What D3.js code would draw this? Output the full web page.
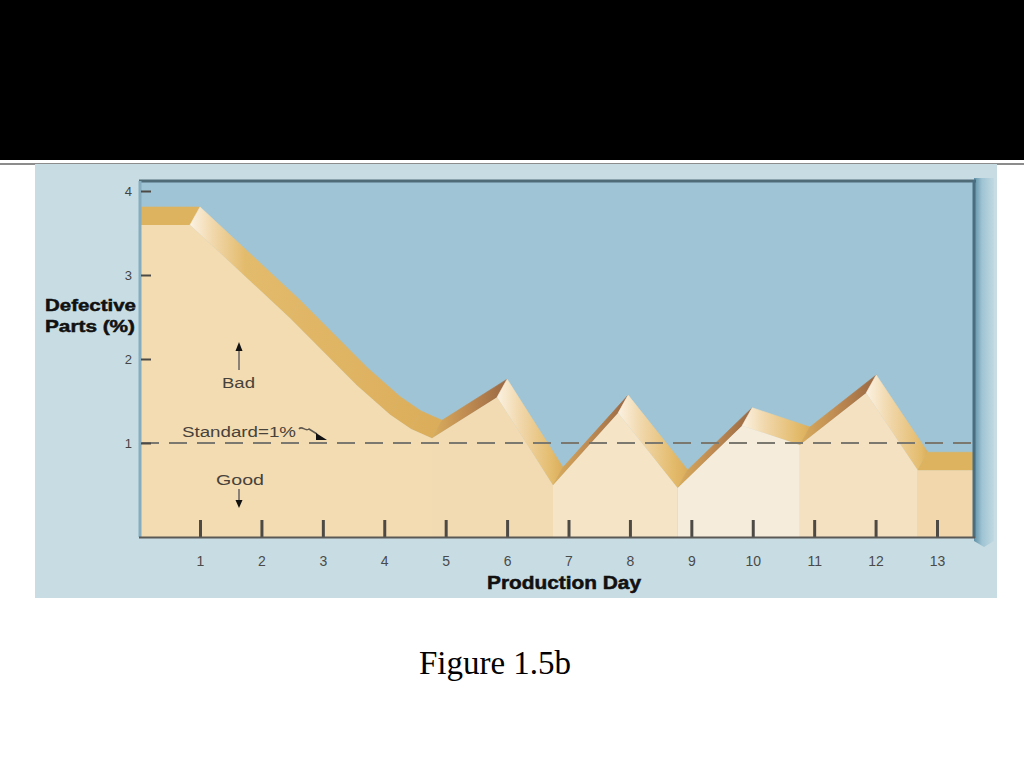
<!DOCTYPE html>
<html><head><meta charset="utf-8">
<script src="https://cdn.jsdelivr.net/npm/d3@7"></script>
<style>body{margin:0;background:#fff;} svg{display:block}</style>
</head><body>
<svg id="c" width="1024" height="768"></svg>
<script>
// ---------------- data ----------------
const dayTicks = [1,2,3,4,5,6,7,8,9,10,11,12,13];
const yTicks = [1,2,3,4];
const ridgeDays   = [0, 1.00, 2.63, 3.72, 4.26, 4.60, 4.94, 6.00, 6.91, 7.97, 8.94, 9.99, 10.93, 12.01, 12.85, 13.90];
const ridgeValues = [3.81, 3.81, 2.70, 1.90, 1.55, 1.38, 1.27, 1.76, 0.71, 1.57, 0.68, 1.42, 1.19, 1.81, 0.89, 0.89];
const standardValue = 1;
const faceBreakDays = [4.94, 6.91, 8.94, 10.93, 12.85];
const yTitle = ["Defective", "Parts (%)"];
const xTitle = "Production Day";
const badLabel = "Bad", goodLabel = "Good", standardLabel = "Standard=1%";
const caption = "Figure 1.5b";

// ---------------- styles ----------------
const faceColors = ["#f3dcb1", "#f2dbb2", "#f5e4c6", "#f6ecdc", "#f4e1c2", "#f1d7ab"];
const depth = {dx: 10, dy: 18};
const plot = {l: 141, r: 974, t: 181, b: 537};

const svg = d3.select("#c");
const defs = svg.append("defs");
const x = d3.scaleLinear().domain([0, 13]).range([138.6, 937]);
const y = d3.scaleLinear().domain([0, 4]).range([527, 191]);

// slide
svg.append("rect").attr("width",1024).attr("height",768).attr("fill","#fff");
svg.append("rect").attr("width",1024).attr("height",160).attr("fill","#000");
svg.append("rect").attr("y",163).attr("width",1024).attr("height",2).attr("fill","#8c8c8c");
// picture background
svg.append("rect").attr("x",35).attr("y",164).attr("width",962).attr("height",434).attr("fill","#c8dde3");

// right bevel
const bev = defs.append("linearGradient").attr("id","bev").attr("x1",0).attr("x2",1).attr("y1",0).attr("y2",0);
bev.append("stop").attr("offset",0).attr("stop-color","#5f91a7");
bev.append("stop").attr("offset",0.4).attr("stop-color","#9fc4d3");
bev.append("stop").attr("offset",1).attr("stop-color","#c0d9e2");
svg.append("path").attr("d",`M${plot.r},${plot.t-3} L${plot.r+20},${plot.t-3} L${plot.r+20},${plot.b+4} L${plot.r+10},${plot.b+10} L${plot.r},${plot.b+4} Z`).attr("fill","url(#bev)");

// plot background
svg.append("rect").attr("x",plot.l).attr("y",plot.t).attr("width",plot.r-plot.l).attr("height",plot.b-plot.t).attr("fill","#9ec4d6");

defs.append("clipPath").attr("id","pc").append("rect")
  .attr("x",plot.l).attr("y",plot.t).attr("width",plot.r-plot.l-1).attr("height",plot.b-plot.t);
const g = svg.append("g").attr("clip-path","url(#pc)");

// ridge geometry
const back = ridgeDays.map((d,i)=>[x(d), y(ridgeValues[i])]);
const front = back.map(([px,py])=>[px-depth.dx, py+depth.dy]);

// group segments into runs
const segs = [];
for (let i=0;i<back.length-1;i++){
  const dv = ridgeValues[i+1]-ridgeValues[i];
  segs.push({i, type: Math.abs(dv)<0.03 ? "flat" : (dv<0 ? "down" : "up")});
}
const runs = [];
segs.forEach(s=>{
  const last = runs[runs.length-1];
  if (last && last.type===s.type) last.segs.push(s.i); else runs.push({type:s.type, segs:[s.i]});
});
runs.forEach((r,k)=>{
  const i0 = r.segs[0], i1 = r.segs[r.segs.length-1]+1;
  const xa = front[i0][0], xb = back[i1][0];
  const len = Math.max(1, xb-xa);
  const gr = defs.append("linearGradient").attr("id","run"+k).attr("gradientUnits","userSpaceOnUse")
    .attr("x1",xa).attr("x2",xb).attr("y1",0).attr("y2",0);
  let stops;
  if (r.type==="flat") stops = [[0,"#ddb35f"],[1,"#ddb35f"]];
  else if (r.type==="up") stops = [[0,"#d9ad5c"],[0.45,"#c08c52"],[1,"#9a6843"]];
  else stops = [[0,"#fbf2e2"],[Math.min(0.9,22/len),"#f1d8ad"],[Math.min(0.95,55/len),"#e3bb6c"],[1,"#dbad5a"]];
  stops.forEach(([o,c])=>gr.append("stop").attr("offset",o).attr("stop-color",c));
  r.segs.forEach(i=>{
    g.append("path")
      .attr("d", d3.line()([front[i], front[i+1], back[i+1], back[i]]) + "Z")
      .attr("fill", `url(#run${k})`).attr("stroke", `url(#run${k})`).attr("stroke-width",0.6);
  });
});

// front faces
const area = d3.area().x(p=>p[0]).y0(plot.b).y1(p=>p[1]);
const bounds = [plot.l-20, ...faceBreakDays.map(d=>x(d)-depth.dx), plot.r+20];
faceColors.forEach((c,k)=>{
  const id = "fc"+k;
  defs.append("clipPath").attr("id",id).append("rect")
    .attr("x",bounds[k]).attr("y",0).attr("width",bounds[k+1]-bounds[k]).attr("height",768);
  g.append("path").attr("d", area(front)).attr("fill", c).attr("clip-path",`url(#${id})`);
});

// standard line
svg.append("line").attr("x1",plot.l).attr("x2",plot.r-2).attr("y1",y(standardValue)).attr("y2",y(standardValue))
  .attr("stroke","#7b786f").attr("stroke-width",2).attr("stroke-dasharray","18,10");

// frame
svg.append("line").attr("x1",plot.l-2).attr("x2",plot.r+2).attr("y1",plot.t).attr("y2",plot.t).attr("stroke","#4f6b78").attr("stroke-width",3);
svg.append("line").attr("x1",plot.r).attr("x2",plot.r).attr("y1",plot.t-1).attr("y2",plot.b+1).attr("stroke","#4a6e80").attr("stroke-width",3);
svg.append("line").attr("x1",plot.l-1).attr("x2",plot.l-1).attr("y1",plot.t).attr("y2",plot.b).attr("stroke","#85acbf").attr("stroke-width",3);

// x axis
const xAxis = d3.axisBottom(x).tickValues(dayTicks).tickSizeInner(-17).tickSizeOuter(0).tickPadding(19).tickFormat(d3.format("d"));
const gx = svg.append("g").attr("transform",`translate(0,${plot.b})`).call(xAxis);
gx.select(".domain").remove();
gx.selectAll(".tick line").attr("stroke","#4d4a45").attr("stroke-width",3);
gx.selectAll(".tick text").attr("fill","#4a4a4a").attr("font-family","Liberation Sans, Arial, sans-serif").attr("font-size",14);
svg.append("line").attr("x1",plot.l-2).attr("x2",plot.r+1).attr("y1",plot.b+0.5).attr("y2",plot.b+0.5).attr("stroke","#5a5956").attr("stroke-width",2);

// y axis
const yAxis = d3.axisLeft(y).tickValues(yTicks).tickSizeInner(-10).tickSizeOuter(0).tickPadding(9).tickFormat(d3.format("d"));
const gy = svg.append("g").attr("transform",`translate(${plot.l},0)`).call(yAxis);
gy.select(".domain").remove();
gy.selectAll(".tick line").attr("stroke","#4d4a45").attr("stroke-width",2);
gy.selectAll(".tick text").attr("fill","#444").attr("font-family","Liberation Sans, Arial, sans-serif").attr("font-size",13);

// titles
const yt = svg.append("g").attr("font-family","Liberation Sans, Arial, sans-serif").attr("font-weight","bold").attr("fill","#111").attr("font-size",17)
  .attr("stroke","#111").attr("stroke-width",0.5);
yt.append("text").attr("x",45).attr("y",311).attr("textLength",91).attr("lengthAdjust","spacingAndGlyphs").text(yTitle[0]);
yt.append("text").attr("x",45).attr("y",332).attr("textLength",90).attr("lengthAdjust","spacingAndGlyphs").text(yTitle[1]);
svg.append("text").attr("x",487).attr("y",589).attr("textLength",154).attr("lengthAdjust","spacingAndGlyphs")
  .attr("font-family","Liberation Sans, Arial, sans-serif").attr("font-weight","bold").attr("font-size",18)
  .attr("fill","#111").attr("stroke","#111").attr("stroke-width",0.5).text(xTitle);

// annotations
const ann = svg.append("g").attr("font-family","Liberation Sans, Arial, sans-serif").attr("font-size",14).attr("fill","#47423b");
ann.append("text").attr("x",222).attr("y",388).attr("textLength",33).attr("lengthAdjust","spacingAndGlyphs").text(badLabel);
ann.append("text").attr("x",182).attr("y",437).attr("textLength",114).attr("lengthAdjust","spacingAndGlyphs").text(standardLabel);
ann.append("text").attr("x",216).attr("y",485).attr("textLength",48).attr("lengthAdjust","spacingAndGlyphs").text(goodLabel);
const ax = 239;
svg.append("line").attr("x1",ax).attr("x2",ax).attr("y1",370).attr("y2",349).attr("stroke","#8a8276").attr("stroke-width",2);
svg.append("path").attr("d",`M${ax-3.5},351 L${ax+3.5},351 L${ax},342 Z`).attr("fill","#111");
svg.append("line").attr("x1",ax).attr("x2",ax).attr("y1",489).attr("y2",501).attr("stroke","#8a8276").attr("stroke-width",2);
svg.append("path").attr("d",`M${ax-3.5},500 L${ax+3.5},500 L${ax},508 Z`).attr("fill","#111");
svg.append("path").attr("d","M299,429 C302,425 305,432 309,429 L317,434").attr("fill","none").attr("stroke","#5f5950").attr("stroke-width",1.5);
svg.append("path").attr("d","M316,433 L327,440 L316,440 Z").attr("fill","#111");

// caption
svg.append("text").attr("x",495).attr("y",674).attr("text-anchor","middle")
  .attr("font-family","Liberation Serif, Times New Roman, serif").attr("font-size",33).attr("fill","#000").text(caption);
</script>
</body></html>
